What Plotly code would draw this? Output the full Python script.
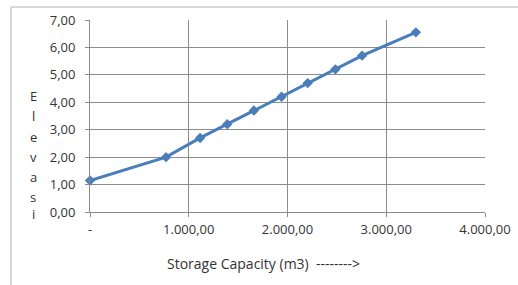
import plotly.graph_objects as go

storage = [0, 770, 1115, 1390, 1660, 1940, 2205, 2485, 2755, 3300]
elevation = [1.15, 2.00, 2.70, 3.20, 3.70, 4.20, 4.70, 5.20, 5.70, 6.55]

x_ticks = [0, 1000, 2000, 3000, 4000]
x_labels = ["-", "1.000,00", "2.000,00", "3.000,00", "4.000,00"]
y_ticks = [0, 1, 2, 3, 4, 5, 6, 7]
y_labels = ["0,00", "1,00", "2,00", "3,00", "4,00", "5,00", "6,00", "7,00"]
y_title = "Elevasi"
x_title = "Storage Capacity (m3)  -------->"

FONT = "Open Sans, Liberation Sans, sans-serif"
GRID = "#8c8c8c"
TXT = "#333333"

W, H = 518, 285
L, R, T, B = 90, 33, 20, 73
PH = H - T - B

fig = go.Figure()
fig.add_trace(go.Scatter(
    x=storage, y=elevation, mode="lines+markers",
    line=dict(color="#4a7ebb", width=3),
    marker=dict(symbol="diamond", size=8, color="#4a7ebb"),
    cliponaxis=False, showlegend=False, hoverinfo="skip",
))

annotations = [dict(text=x_title, xref="paper", yref="paper",
                    x=0.44, y=-(263 - (H - B)) / PH, showarrow=False,
                    xanchor="center", yanchor="middle",
                    font=dict(size=14, color=TXT))]
letter_px = [96, 116, 137, 157, 177, 197, 214]
for ch, py in zip(y_title, letter_px):
    annotations.append(dict(text=ch, xref="paper", yref="paper",
                            x=(33 - L) / (W - L - R), y=1 - (py - T) / PH,
                            showarrow=False, xanchor="center", yanchor="middle",
                            font=dict(size=13, color=TXT)))

fig.update_layout(
    width=W, height=H,
    margin=dict(l=L, r=R, t=T, b=B, autoexpand=False),
    paper_bgcolor="white", plot_bgcolor="white",
    font=dict(family=FONT, size=13, color=TXT),
    xaxis=dict(range=[0, 4000], tickvals=x_ticks, ticktext=x_labels,
               showgrid=True, gridcolor=GRID, gridwidth=1,
               showline=True, linecolor=GRID, ticks="outside",
               ticklen=4, tickcolor=GRID, zeroline=False,
               ticklabelstandoff=1,
               tickfont=dict(size=13, color=TXT)),
    yaxis=dict(range=[0, 7], tickvals=y_ticks, ticktext=y_labels,
               showgrid=True, gridcolor=GRID, gridwidth=1,
               showline=True, linecolor=GRID, ticks="outside",
               ticklen=4, tickcolor=GRID, zeroline=False,
               ticklabelstandoff=7,
               tickfont=dict(size=13, color=TXT)),
    shapes=[dict(type="rect", xref="paper", yref="paper",
                 x0=(11 - L) / (W - L - R), x1=1.2, y0=-0.6, y1=1 + (T - 7) / PH,
                 line=dict(color="#b0b0b0", width=1), layer="below")],
    annotations=annotations,
)

fig.write_html("out.html", config={"displayModeBar": False},
               post_script="document.body.style.margin='0';")
